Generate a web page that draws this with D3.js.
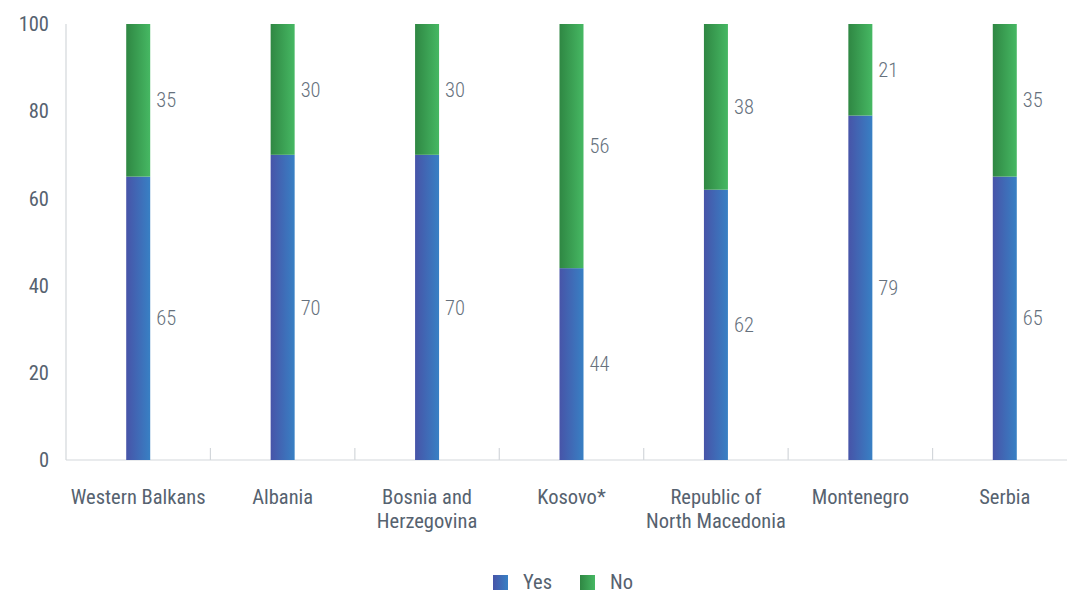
<!DOCTYPE html>
<html><head><meta charset="utf-8">
<script src="https://cdn.jsdelivr.net/npm/d3@7"></script>
<style>
body{margin:0;background:#fff;}
svg text{font-family:"Roboto Condensed","Liberation Sans Narrow",Roboto,sans-serif;}
</style></head>
<body><svg id="c" width="1067" height="594"></svg>
<script>
const categories = [["Western Balkans"],["Albania"],["Bosnia and","Herzegovina"],["Kosovo*"],["Republic of","North Macedonia"],["Montenegro"],["Serbia"]];
const yesValues = [65,70,70,44,62,79,65];
const noValues = [35,30,30,56,38,21,35];
const yTicks = [0,20,40,60,80,100];
const seriesNames = ["Yes","No"];

(function(){
const svg = d3.select("#c");
const defs = svg.append("defs");
function grad(id,c1,c2){
  const g = defs.append("linearGradient").attr("id",id).attr("x1","0").attr("x2","1").attr("y1","0").attr("y2","0");
  g.append("stop").attr("offset","0").attr("stop-color",c1);
  g.append("stop").attr("offset","1").attr("stop-color",c2);
}
grad("gYes","#4754a8","#3880c4");
grad("gNo","#2f8743","#46b863");

const pl=66, pr=1077, pt=24, pb=460;
const x = d3.scaleBand().domain(d3.range(categories.length)).range([pl,pr]);
const y = d3.scaleLinear().domain([0,100]).range([pb,pt]);
const txt = "#56626f";

svg.append("line").attr("x1",pl).attr("x2",pl).attr("y1",pt).attr("y2",pb).attr("stroke","#d3d7db").attr("stroke-width",1.2);
svg.append("line").attr("x1",pl).attr("x2",pr).attr("y1",pb).attr("y2",pb).attr("stroke","#d3d7db").attr("stroke-width",1.2);
d3.range(1,categories.length).forEach(i=>{
  const xx = x(i);
  svg.append("line").attr("x1",xx).attr("x2",xx).attr("y1",pb-12).attr("y2",pb).attr("stroke","#d3d7db").attr("stroke-width",1.2);
});
svg.selectAll(".yt").data(yTicks).join("text").attr("x",49).attr("y",d=>y(d)).attr("dy","0.35em")
  .attr("text-anchor","end").attr("font-size",20.5).attr("fill",txt).text(d=>d);

const bw = 24;
const cx = i => x(i)+x.bandwidth()/2;
svg.selectAll(".yes").data(yesValues).join("rect").attr("x",(d,i)=>cx(i)-bw/2).attr("width",bw)
  .attr("y",d=>y(d)).attr("height",d=>y(0)-y(d)).attr("fill","url(#gYes)");
svg.selectAll(".no").data(noValues).join("rect").attr("x",(d,i)=>cx(i)-bw/2).attr("width",bw)
  .attr("y",(d,i)=>y(yesValues[i]+d)).attr("height",(d,i)=>y(yesValues[i])-y(yesValues[i]+d)).attr("fill","url(#gNo)");
svg.selectAll(".ly").data(yesValues).join("text").attr("x",(d,i)=>cx(i)+18).attr("y",d=>y(d/2)).attr("dy","0.35em")
  .attr("font-size",20.5).attr("font-weight",300).attr("fill","#66717d").text(d=>d);
svg.selectAll(".ln").data(noValues).join("text").attr("x",(d,i)=>cx(i)+18).attr("y",(d,i)=>y(yesValues[i]+d/2)).attr("dy","0.35em")
  .attr("font-size",20.5).attr("font-weight",300).attr("fill","#66717d").text(d=>d);
categories.forEach((lines,i)=>{
  const t = svg.append("text").attr("x",cx(i)).attr("y",504).attr("text-anchor","middle").attr("font-size",20.5).attr("fill",txt);
  lines.forEach((l,j)=>t.append("tspan").attr("x",cx(i)).attr("dy",j?24:0).text(l));
});
const legX=[493,580];
seriesNames.forEach((n,i)=>{
  svg.append("rect").attr("x",legX[i]).attr("y",575).attr("width",15).attr("height",15).attr("fill",i?"url(#gNo)":"url(#gYes)");
  svg.append("text").attr("x",legX[i]+30).attr("y",588.5).attr("font-size",20.5).attr("fill",txt).text(n);
});
})();
</script></body></html>
